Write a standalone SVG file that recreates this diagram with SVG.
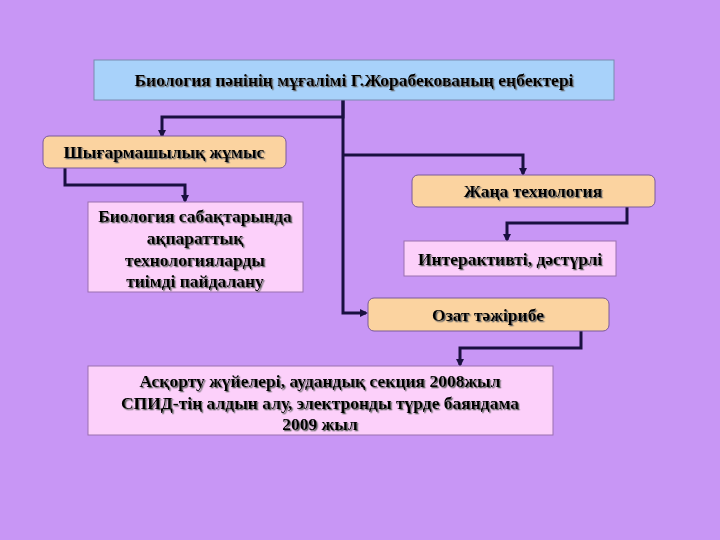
<svg xmlns="http://www.w3.org/2000/svg" width="720" height="540" viewBox="0 0 720 540">
<defs>
<marker id="ah" markerWidth="8" markerHeight="8" refX="6" refY="4" orient="auto" markerUnits="userSpaceOnUse"><path d="M0,0 L8,4 L0,8 z" fill="#1a1040"/></marker>
<filter id="sh"><feDropShadow dx="1.3" dy="1.3" stdDeviation="0.3" flood-color="#666"/></filter>
</defs>
<style>
text{font-family:"Liberation Serif","Times New Roman",serif;font-weight:bold;font-size:17.5px;fill:#000;text-anchor:middle;filter:url(#sh)}
.c{fill:none;stroke:#1a1040;stroke-width:3;marker-end:url(#ah)}
.o{fill:#fbd3a0;stroke:#7a5a9a;stroke-width:1}
.p{fill:#fcd0fa;stroke:#9a70b0;stroke-width:1}
</style>
<rect width="720" height="540" fill="#c896f5"/>
<g id="connectors">
<path class="c" d="M343,100 V117 H162 V136"/>
<path class="c" d="M65,168 V185 H185 V201"/>
<path class="c" d="M343,155 H523 V174"/>
<path class="c" d="M627,207 V223 H507 V240"/>
<path class="c" d="M343,100 V313 H366"/>
<path class="c" d="M581,331 V348 H460 V365"/>
</g>
<g id="top"><rect x="94" y="60" width="520" height="40" fill="#a8d2fa" stroke="#7a8ab0"/><text x="354" y="86">Биология пәнінің мұғалімі Г.Жорабекованың еңбектері</text></g>
<g id="shyg"><rect class="o" x="43" y="136" width="243" height="32" rx="6"/><text x="164" y="158">Шығармашылық жұмыс</text></g>
<g id="bio"><rect class="p" x="88" y="202" width="215" height="90"/><text x="195" y="222">Биология сабақтарында</text><text x="195" y="244">ақпараттық</text><text x="195" y="266">технологияларды</text><text x="195" y="287">тиімді пайдалану</text></g>
<g id="zhana"><rect class="o" x="412" y="175" width="243" height="32" rx="6"/><text x="533" y="197">Жаңа технология</text></g>
<g id="inter"><rect class="p" x="404" y="241" width="212" height="35"/><text x="510" y="265">Интерактивті, дәстүрлі</text></g>
<g id="ozat"><rect class="o" x="368" y="298" width="241" height="33" rx="6"/><text x="488" y="321">Озат тәжірибе</text></g>
<g id="bottom"><rect class="p" x="88" y="366" width="465" height="69"/><text x="320" y="387">Асқорту жүйелері, аудандық секция 2008жыл</text><text x="320" y="409">СПИД-тің алдын алу, электронды түрде баяндама</text><text x="320" y="430">2009 жыл</text></g>
</svg>
